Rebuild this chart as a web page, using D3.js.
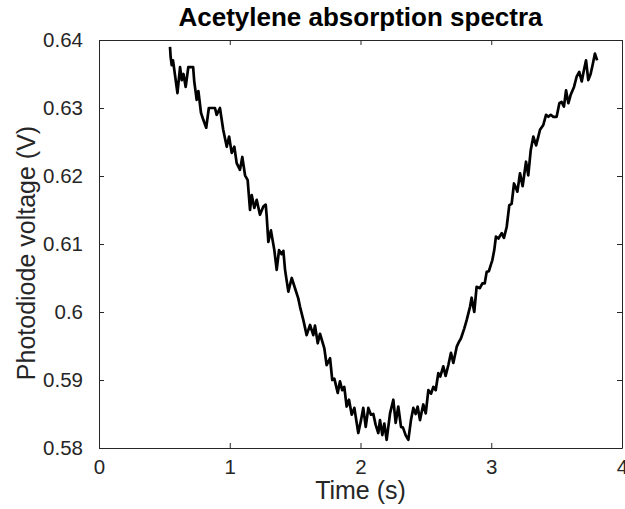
<!DOCTYPE html>
<html>
<head>
<meta charset="utf-8">
<script src="https://cdn.jsdelivr.net/npm/d3@7"></script>
<style>
  html, body { margin: 0; padding: 0; background: #fff; }
  text { font-family: "Liberation Sans", Arial, Helvetica, sans-serif; }
</style>
</head>
<body>
<div id="chart"></div>
<script>
// values
const time = [0.543, 0.548, 0.556, 0.566, 0.60, 0.62, 0.633, 0.646, 0.663, 0.683, 0.72, 0.728, 0.747, 0.76, 0.78, 0.797, 0.82, 0.84, 0.887, 0.9, 0.925, 0.95, 0.977, 0.995, 1.015, 1.035, 1.053, 1.078, 1.096, 1.117, 1.137, 1.155, 1.168, 1.188, 1.206, 1.231, 1.257, 1.275, 1.283, 1.295, 1.315, 1.341, 1.359, 1.377, 1.397, 1.41, 1.423, 1.448, 1.474, 1.504, 1.524, 1.537, 1.563, 1.588, 1.614, 1.639, 1.652, 1.673, 1.69, 1.723, 1.741, 1.767, 1.784, 1.80, 1.826, 1.843, 1.86, 1.876, 1.894, 1.912, 1.933, 1.953, 1.983, 2.004, 2.021, 2.04, 2.06, 2.08, 2.098, 2.116, 2.136, 2.149, 2.167, 2.182, 2.2, 2.226, 2.251, 2.269, 2.289, 2.31, 2.325, 2.345, 2.366, 2.386, 2.404, 2.422, 2.437, 2.455, 2.48, 2.499, 2.519, 2.54, 2.557, 2.575, 2.595, 2.61, 2.633, 2.651, 2.672, 2.692, 2.71, 2.736, 2.753, 2.768, 2.794, 2.812, 2.838, 2.85, 2.87, 2.888, 2.913, 2.932, 2.95, 2.965, 2.982, 2.998, 3.008, 3.023, 3.036, 3.055, 3.08, 3.097, 3.118, 3.138, 3.156, 3.174, 3.2, 3.22, 3.24, 3.266, 3.283, 3.302, 3.322, 3.343, 3.36, 3.373, 3.398, 3.419, 3.437, 3.455, 3.475, 3.5, 3.521, 3.538, 3.556, 3.572, 3.59, 3.607, 3.633, 3.653, 3.673, 3.692, 3.709, 3.725, 3.742, 3.76, 3.776, 3.793, 3.81];
const voltage = [0.639, 0.6375, 0.6363, 0.637, 0.6322, 0.636, 0.6341, 0.635, 0.6331, 0.636, 0.636, 0.634, 0.6312, 0.6325, 0.6293, 0.6283, 0.6271, 0.630, 0.630, 0.629, 0.630, 0.6268, 0.6243, 0.6258, 0.6234, 0.6243, 0.6219, 0.6209, 0.6228, 0.6201, 0.6194, 0.615, 0.6172, 0.6153, 0.6165, 0.6143, 0.6155, 0.6158, 0.614, 0.6103, 0.612, 0.6091, 0.6062, 0.6091, 0.6085, 0.609, 0.6062, 0.603, 0.605, 0.6032, 0.602, 0.6008, 0.5988, 0.5966, 0.5981, 0.5966, 0.598, 0.5954, 0.5968, 0.5947, 0.5922, 0.5932, 0.590, 0.5902, 0.5881, 0.5898, 0.5885, 0.589, 0.5861, 0.5871, 0.5849, 0.5859, 0.5822, 0.5841, 0.5859, 0.5831, 0.5859, 0.5849, 0.585, 0.5834, 0.5822, 0.5841, 0.5819, 0.5836, 0.5812, 0.5851, 0.5871, 0.5837, 0.5861, 0.5831, 0.583, 0.5819, 0.5812, 0.5841, 0.5859, 0.585, 0.5861, 0.5841, 0.5864, 0.5851, 0.5885, 0.588, 0.589, 0.5885, 0.591, 0.5905, 0.592, 0.5906, 0.5922, 0.594, 0.5925, 0.5949, 0.5956, 0.5961, 0.5976, 0.5988, 0.6008, 0.6021, 0.600, 0.6037, 0.6035, 0.6042, 0.6042, 0.6059, 0.606, 0.607, 0.6076, 0.6091, 0.6111, 0.6108, 0.6116, 0.6109, 0.6125, 0.6157, 0.6159, 0.6189, 0.6177, 0.6204, 0.6185, 0.6221, 0.6201, 0.6238, 0.6258, 0.6245, 0.6258, 0.6268, 0.6275, 0.629, 0.6287, 0.629, 0.6287, 0.6287, 0.6307, 0.6309, 0.6302, 0.6326, 0.6307, 0.6319, 0.6331, 0.6346, 0.6353, 0.6339, 0.6356, 0.637, 0.6341, 0.635, 0.6364, 0.638, 0.637];
const xTicks = [0, 1, 2, 3, 4];
const yTicks = [0.58, 0.59, 0.60, 0.61, 0.62, 0.63, 0.64];

// set the dimensions and margins of the graph
const W = 625, H = 509;
const margin = {top: 40, right: 3, bottom: 61, left: 99},
      width = W - margin.left - margin.right,
      height = H - margin.top - margin.bottom;
const axisColor = "#262626";

const svg = d3.select("#chart")
  .append("svg")
    .attr("width", W)
    .attr("height", H)
  .append("g")
    .attr("transform", `translate(${margin.left}, ${margin.top})`);

const x = d3.scaleLinear().domain([0, 4]).range([0, width]);
const y = d3.scaleLinear().domain([0.58, 0.64]).range([height, 0]);

const data = time.map((t, i) => ({t: t, v: voltage[i]}));

// line first, axes over it
svg.append("path")
    .datum(data)
    .attr("fill", "none")
    .attr("stroke", "#000")
    .attr("stroke-width", 2.7)
    .attr("stroke-linejoin", "round")
    .attr("d", d3.line().x(d => x(d.t)).y(d => y(d.v)));

const yFmt = d => d === 0.6 ? "0.6" : d3.format(".2f")(d);

// bottom axis, ticks pointing inward
const xAxis = svg.append("g")
    .attr("transform", `translate(0, ${height})`)
    .call(d3.axisBottom(x).tickValues(xTicks).tickFormat(d3.format("d")).tickSizeInner(-5).tickSizeOuter(0).tickPadding(11));
// top axis (box), no labels
const xTop = svg.append("g")
    .call(d3.axisTop(x).tickValues(xTicks).tickFormat("").tickSizeInner(-5).tickSizeOuter(0));
const yAxis = svg.append("g")
    .call(d3.axisLeft(y).tickValues(yTicks).tickFormat(yFmt).tickSizeInner(-5).tickSizeOuter(0).tickPadding(16));
const yRight = svg.append("g")
    .attr("transform", `translate(${width}, 0)`)
    .call(d3.axisRight(y).tickValues(yTicks).tickFormat("").tickSizeInner(-5).tickSizeOuter(0));

[xAxis, xTop, yAxis, yRight].forEach(g => {
  g.select(".domain").attr("stroke", axisColor).attr("stroke-width", 1);
  g.selectAll(".tick line").attr("stroke", axisColor);
  g.selectAll(".tick text")
    .attr("fill", axisColor)
    .style("font-family", '"Liberation Sans", Arial, sans-serif')
    .style("font-size", "20.5px");
});

// labels
svg.append("text")
    .attr("x", width / 2)
    .attr("y", -14)
    .attr("text-anchor", "middle")
    .attr("fill", "#000")
    .attr("font-weight", "bold")
    .attr("font-size", "26px")
    .text("Acetylene absorption spectra");

svg.append("text")
    .attr("x", width / 2)
    .attr("y", height + 51)
    .attr("text-anchor", "middle")
    .attr("fill", axisColor)
    .attr("font-size", "25px")
    .text("Time (s)");

svg.append("text")
    .attr("transform", `translate(${35 - margin.left}, ${253 - margin.top}) rotate(-90)`)
    .attr("text-anchor", "middle")
    .attr("fill", axisColor)
    .attr("font-size", "25px")
    .text("Photodiode voltage (V)");
</script>
</body>
</html>
